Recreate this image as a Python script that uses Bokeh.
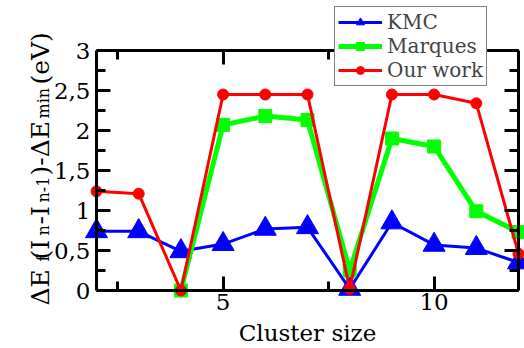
import math
from bokeh.plotting import figure
from bokeh.models import FixedTicker, LinearAxis, Label, Legend, LegendItem, Range1d
from bokeh.embed import file_html
from bokeh.resources import INLINE

# ---- data ----
cluster_size = [2, 3, 4, 5, 6, 7, 8, 9, 10, 11, 12]
kmc = [0.74, 0.74, 0.49, 0.58, 0.77, 0.79, 0.02, 0.85, 0.57, 0.53, 0.35]
marques_size = [4, 5, 6, 7, 8, 9, 10, 11, 12]
marques = [0.0, 2.07, 2.18, 2.13, 0.25, 1.90, 1.80, 0.99, 0.73]
our_work = [1.24, 1.21, 0.0, 2.45, 2.45, 2.45, 0.02, 2.45, 2.45, 2.34, 0.46]

x_ticks = [5, 10]
x_minor_ticks = [2.5, 7.5, 12.5]
y_ticks = [0, 0.5, 1, 1.5, 2, 2.5, 3]
y_tick_labels = ["0", "0,5", "1", "1,5", "2", "2,5", "3"]
y_minor_ticks = [0.25, 0.75, 1.25, 1.75, 2.25, 2.75]

FONT = "DejaVu Serif"
W, H = 524, 348
BL, BR, BT, BB = 96, 518, 50, 290
x0, x1 = min(cluster_size), max(cluster_size)
y0, y1 = y_ticks[0], y_ticks[-1]
sx = (BR - BL) / (x1 - x0)
sy = (BB - BT) / (y1 - y0)

p = figure(width=W, height=H,
           x_range=Range1d(x0 - BL / sx, x1 + (W - BR) / sx),
           y_range=Range1d(y0 - (H - BB) / sy, y1 + BT / sy),
           output_backend="svg", toolbar_location=None,
           min_border=0, min_border_left=0, min_border_right=0,
           min_border_top=0, min_border_bottom=0)
p.grid.visible = False
p.xaxis.visible = False
p.yaxis.visible = False
p.outline_line_color = None
p.background_fill_color = "white"
p.border_fill_color = "white"


def make_axis(ticker, loc, minor_in=9, line=True):
    ax = LinearAxis(ticker=ticker, fixed_location=loc)
    ax.axis_line_color = "black" if line else None
    ax.axis_line_width = 3
    ax.major_tick_line_width = 3
    ax.minor_tick_line_width = 3
    ax.major_tick_line_color = "black"
    ax.minor_tick_line_color = "black"
    ax.major_tick_in = 14
    ax.major_tick_out = 0
    ax.minor_tick_in = minor_in
    ax.minor_tick_out = 0
    ax.major_label_text_font = FONT
    ax.major_label_text_font_size = "23px"
    ax.major_label_text_color = "black"
    return ax


left = make_axis(FixedTicker(ticks=y_ticks, minor_ticks=y_minor_ticks), x0)
left.bounds = (y0, y1)
left.major_label_overrides = {v: s for v, s in zip(y_ticks, y_tick_labels)}
left.major_label_standoff = 6
p.add_layout(left, "left")

bottom = make_axis(FixedTicker(ticks=x_ticks, minor_ticks=x_minor_ticks), y0)
bottom.bounds = (x0, x1)
bottom.major_label_standoff = 3
p.add_layout(bottom, "below")

# mirrored ticks on right and top (drawn as minor ticks so that no labels appear)
r1 = make_axis(FixedTicker(ticks=[], minor_ticks=y_ticks), x1, minor_in=14)
r1.bounds = (y0, y1)
p.add_layout(r1, "right")
r2 = make_axis(FixedTicker(ticks=[], minor_ticks=y_minor_ticks), x1, minor_in=9, line=False)
r2.bounds = (y0, y1)
p.add_layout(r2, "right")
t1 = make_axis(FixedTicker(ticks=[], minor_ticks=x_ticks), y1, minor_in=14)
t1.bounds = (x0, x1)
p.add_layout(t1, "above")
t2 = make_axis(FixedTicker(ticks=[], minor_ticks=x_minor_ticks), y1, minor_in=9, line=False)
t2.bounds = (x0, x1)
p.add_layout(t2, "above")

# ---- series ----
l1 = p.line(cluster_size, kmc, line_color="blue", line_width=3)
s1 = p.scatter(cluster_size, kmc, marker="triangle", size=22, fill_color="blue", line_color="blue")
l2 = p.line(marques_size, marques, line_color="lime", line_width=5)
s2 = p.scatter(marques_size, marques, marker="square", size=13, fill_color="lime", line_color="lime")
l3 = p.line(cluster_size, our_work, line_color="red", line_width=3)
s3 = p.scatter(cluster_size, our_work, marker="circle", size=11, fill_color="red", line_color="red")

legend = Legend(items=[LegendItem(label="KMC", renderers=[l1, s1]),
                       LegendItem(label="Marques", renderers=[l2, s2]),
                       LegendItem(label="Our work", renderers=[l3, s3])],
                location=(334, 262))
legend.label_text_font = FONT
legend.label_text_font_size = "20px"
legend.label_height = 20
legend.glyph_height = 20
legend.glyph_width = 44
legend.label_standoff = 5
legend.padding = 3
legend.spacing = -1
legend.margin = 0
legend.border_line_color = "black"
legend.border_line_width = 1.5
legend.background_fill_alpha = 1
p.add_layout(legend, "center")

# ---- axis titles ----
p.add_layout(Label(x=(x0 + x1) / 2, y=16, x_units="data", y_units="screen", text="Cluster size",
                   text_font=FONT, text_font_size="23px", text_align="center",
                   text_baseline="middle", text_color="black"))

main_x = 40
sub_x = 43
pieces = [("ΔE", 43, False), ("f", 87, True), ("(I", 89, False), ("n", 113, True),
          ("-I", 124, False), ("n-1", 146, True), (")-ΔE", 173, False),
          ("min", 230, True), ("(eV)", 264, False)]
for txt, yy, sub in pieces:
    p.add_layout(Label(x=sub_x if sub else main_x, y=yy, x_units="screen", y_units="screen",
                       text=txt, angle=math.pi / 2, angle_units="rad",
                       text_font=FONT, text_font_size="16px" if sub else "25px",
                       text_align="left", text_baseline="alphabetic", text_color="black"))

open("out.html", "w").write(file_html(p, INLINE))
